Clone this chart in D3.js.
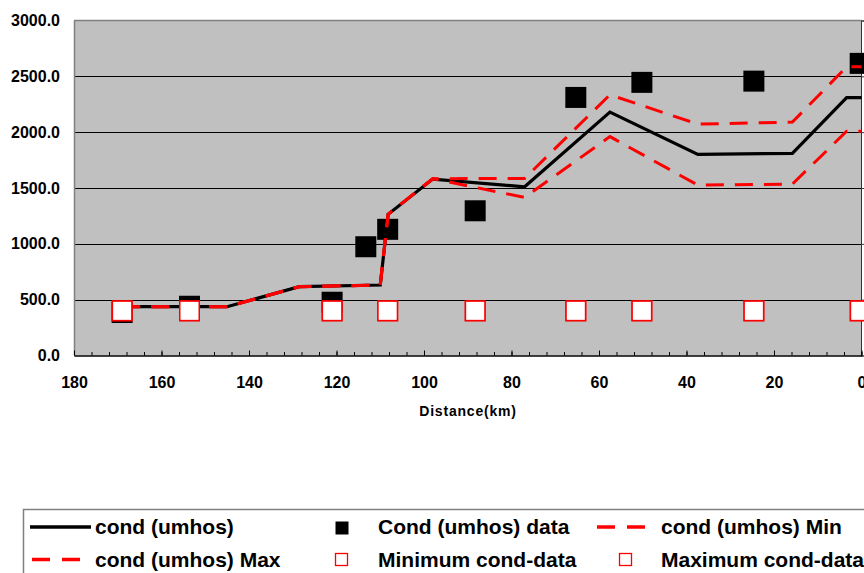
<!DOCTYPE html>
<html>
<head>
<meta charset="utf-8">
<script src="https://cdn.jsdelivr.net/npm/d3@7"></script>
<style>
  html, body { margin: 0; padding: 0; background: #fff; overflow: hidden; }
  svg { display: block; font-family: "Liberation Sans", Arial, sans-serif; font-weight: bold; }
</style>
</head>
<body>
<svg id="chart" width="864" height="573"></svg>
<script>
// ---- Data ----
const lineKm    = [169, 145, 128.5, 110, 108.2, 98, 77, 57.5, 37.4, 15.8, 3.4, 0];
const condMain  = [437, 437, 616, 631, 1265, 1580, 1511, 2180, 1801, 1810, 2310, 2310];
const condMax   = [437, 437, 616, 631, 1265, 1583, 1586, 2335, 2072, 2090, 2585, 2585];
const condMin   = [437, 437, 616, 631, 1265, 1583, 1416, 1960, 1526, 1535, 2008, 2008];

const dataKm    = [169, 153.6, 121, 113.3, 108.3, 88.3, 65.3, 50.2, 24.6, 0.3];
const condData  = [385, 441, 477, 974, 1130, 1296, 2311, 2446, 2457, 2616];
const minData   = [400, 400, 400, null, 400, 400, 400, 400, 400, 400];
const maxData   = [400, 400, 400, null, 400, 400, 400, 400, 400, 400];

const xTicks = [180, 160, 140, 120, 100, 80, 60, 40, 20, 0];
const yTicks = [0, 500, 1000, 1500, 2000, 2500, 3000];
const legendRow1 = ["cond (umhos)", "Cond (umhos) data", "cond (umhos) Min"];
const legendRow2 = ["cond (umhos) Max", "Minimum cond-data", "Maximum cond-data"];

// ---- Layout ----
const svg = d3.select("#chart");
const L = 74, R = 861.5, T = 20.5, B = 355.5;
const x = d3.scaleLinear().domain([180, 0]).range([L, R]);
const y = d3.scaleLinear().domain([0, 3000]).range([B, T]);

// plot background
svg.append("rect").attr("x", L).attr("y", T).attr("width", R - L).attr("height", B - T)
  .attr("fill", "#c0c0c0");

// gridlines
svg.append("g").selectAll("line").data(yTicks.filter(v => v > 0 && v < 3000)).join("line")
  .attr("x1", L).attr("x2", R)
  .attr("y1", d => Math.round(y(d)) + 0.5).attr("y2", d => Math.round(y(d)) + 0.5)
  .attr("stroke", "#000").attr("stroke-width", 1);

// top & left borders
svg.append("line").attr("x1", L).attr("x2", R).attr("y1", 20.5).attr("y2", 20.5)
  .attr("stroke", "#808080").attr("stroke-width", 1.5);
svg.append("line").attr("x1", L + 0.5).attr("x2", L + 0.5).attr("y1", T).attr("y2", B)
  .attr("stroke", "#808080").attr("stroke-width", 1.5);

// right axis (no labels)
const rightAxis = svg.append("g").attr("transform", `translate(${R - 0.5},0)`)
  .call(d3.axisRight(y).tickValues(yTicks).tickSize(4).tickFormat(""));
rightAxis.selectAll("path,line").attr("stroke", "#333");

// bottom axis: minor ticks
const minorTicks = d3.range(0, 181, 4);
svg.append("g").attr("transform", `translate(0,${B})`)
  .call(d3.axisBottom(x).tickValues(minorTicks).tickSize(-3.5).tickFormat(""))
  .call(g => g.select(".domain").remove())
  .selectAll("line").attr("stroke", "#000");
// bottom axis: major ticks and labels
const bottomAxis = svg.append("g").attr("transform", `translate(0,${B})`)
  .call(d3.axisBottom(x).tickValues(xTicks).tickSizeInner(-5).tickSizeOuter(0).tickPadding(21).tickFormat(d3.format("d")));
bottomAxis.select(".domain").attr("stroke", "#000").attr("stroke-width", 1.5);
bottomAxis.selectAll("line").attr("stroke", "#000");
bottomAxis.selectAll("text").attr("font-size", 16).attr("font-weight", "bold")
  .attr("font-family", "Liberation Sans, Arial, sans-serif").attr("fill", "#000").attr("y", 21);

// left axis labels
const leftAxis = svg.append("g").attr("transform", `translate(${L},0)`)
  .call(d3.axisLeft(y).tickValues(yTicks).tickSize(0).tickPadding(14).tickFormat(d3.format(".1f")));
leftAxis.select(".domain").remove();
leftAxis.selectAll("text").attr("font-size", 16).attr("font-weight", "bold")
  .attr("font-family", "Liberation Sans, Arial, sans-serif").attr("fill", "#000");

// axis title
svg.append("text").attr("x", 468).attr("y", 416).attr("text-anchor", "middle")
  .attr("font-size", 14).attr("letter-spacing", "0.8px").text("Distance(km)");

// ---- Marks ----
const sq = 21;
// Cond data (filled black squares)
svg.append("g").selectAll("rect").data(dataKm.map((k, i) => [k, condData[i]])).join("rect")
  .attr("x", d => x(d[0]) - sq / 2).attr("y", d => y(d[1]) - sq / 2)
  .attr("width", sq).attr("height", sq).attr("fill", "#000");

const line = d3.line().x(d => x(d[0])).y(d => y(d[1]));
const pts = arr => lineKm.map((k, i) => [k, arr[i]]);

svg.append("path").datum(pts(condMain)).attr("d", line)
  .attr("fill", "none").attr("stroke", "#000").attr("stroke-width", 3.2).attr("stroke-linejoin", "miter");
svg.append("path").datum(pts(condMin)).attr("d", line)
  .attr("fill", "none").attr("stroke", "#ff0000").attr("stroke-width", 3).attr("stroke-dasharray", "18,11");
svg.append("path").datum(pts(condMax)).attr("d", line)
  .attr("fill", "none").attr("stroke", "#ff0000").attr("stroke-width", 3).attr("stroke-dasharray", "18,11");

// Minimum / maximum cond-data (white squares, red border)
const ws = 19.5;
[minData, maxData].forEach(arr => {
  svg.append("g").selectAll("rect")
    .data(dataKm.map((k, i) => [k, arr[i]]).filter(d => d[1] != null)).join("rect")
    .attr("x", d => x(d[0]) - ws / 2).attr("y", d => y(d[1]) - ws / 2)
    .attr("width", ws).attr("height", ws)
    .attr("fill", "#fff").attr("stroke", "#ff0000").attr("stroke-width", 1.5);
});

// ---- Legend ----
const lg = svg.append("g");
lg.append("rect").attr("x", 23.5).attr("y", 509.5).attr("width", 900).attr("height", 100)
  .attr("fill", "#fff").attr("stroke", "#808080").attr("stroke-width", 1.5);

const textX = [95, 378, 661];
const rowBase = [534, 567];
const rowMid = [527, 559.5];
[legendRow1, legendRow2].forEach((row, r) => {
  row.forEach((t, c) => {
    lg.append("text").attr("x", textX[c]).attr("y", rowBase[r]).attr("font-size", 21).text(t);
  });
});
// row 1 symbols
lg.append("line").attr("x1", 30).attr("x2", 91).attr("y1", rowMid[0]).attr("y2", rowMid[0])
  .attr("stroke", "#000").attr("stroke-width", 3.5);
lg.append("rect").attr("x", 335.5).attr("y", 521.5).attr("width", 13).attr("height", 13).attr("fill", "#000");
lg.append("line").attr("x1", 597).attr("x2", 647).attr("y1", rowMid[0]).attr("y2", rowMid[0])
  .attr("stroke", "#ff0000").attr("stroke-width", 3.3).attr("stroke-dasharray", "18,12");
// row 2 symbols
lg.append("line").attr("x1", 32).attr("x2", 82).attr("y1", rowMid[1]).attr("y2", rowMid[1])
  .attr("stroke", "#ff0000").attr("stroke-width", 3.3).attr("stroke-dasharray", "18,12");
lg.append("rect").attr("x", 335.5).attr("y", 553.5).attr("width", 12).attr("height", 12)
  .attr("fill", "#fff").attr("stroke", "#ff0000").attr("stroke-width", 1.3);
lg.append("rect").attr("x", 619.5).attr("y", 553.5).attr("width", 12).attr("height", 12)
  .attr("fill", "#fff").attr("stroke", "#ff0000").attr("stroke-width", 1.3);
</script>
</body>
</html>
